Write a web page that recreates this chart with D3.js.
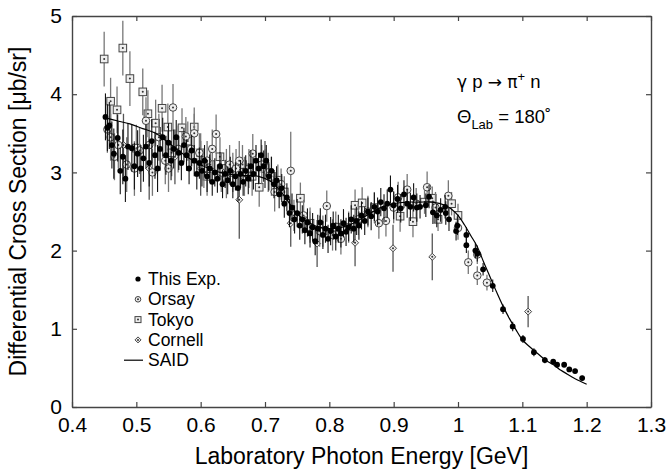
<!DOCTYPE html>
<html>
<head>
<meta charset="utf-8">
<script src="https://cdn.jsdelivr.net/npm/d3@7"></script>
<style>
body { margin: 0; background: #fff; }
text { font-family: "Liberation Sans", Arial, sans-serif; fill: #000; }
</style>
</head>
<body>
<div id="chart"></div>
<script>
// [energy GeV, dsigma ub/sr, error]
var thisExp = [
    [0.452,3.71,0.3],[0.455,3.57,0.3],[0.458,3.60,0.3],[0.462,3.35,0.3],[0.465,3.24,0.32],[0.471,3.44,0.3],[0.475,3.02,0.3],[0.479,3.20,0.35],
    [0.483,2.92,0.3],[0.487,3.33,0.3],[0.493,3.31,0.3],[0.497,3.08,0.3],[0.502,3.24,0.3],[0.507,3.05,0.3],[0.511,3.18,0.3],[0.515,3.33,0.28],
    [0.520,3.12,0.3],[0.524,3.40,0.28],[0.529,3.22,0.3],[0.533,3.05,0.3],[0.537,3.30,0.28],[0.541,3.45,0.25],[0.546,3.22,0.25],[0.550,3.38,0.25],
    [0.554,3.15,0.25],[0.558,3.30,0.25],[0.562,3.45,0.22],[0.566,3.25,0.22],[0.570,3.12,0.22],[0.574,3.35,0.22],[0.578,3.22,0.2],[0.582,3.05,0.2],
    [0.586,3.28,0.2],[0.590,3.15,0.2],[0.594,2.98,0.2],[0.598,3.12,0.2],
    [0.602,3.02,0.2],[0.606,3.15,0.2],[0.610,2.95,0.2],[0.614,3.05,0.18],[0.618,2.88,0.18],[0.622,3.00,0.18],[0.626,2.92,0.18],[0.630,3.08,0.18],
    [0.634,2.85,0.18],[0.638,2.98,0.18],[0.642,2.90,0.18],[0.646,3.02,0.18],[0.650,2.85,0.18],[0.654,2.95,0.18],[0.658,2.80,0.18],[0.662,2.98,0.18],
    [0.666,2.88,0.18],[0.670,3.02,0.2],[0.674,2.92,0.2],[0.678,3.08,0.2],[0.682,2.98,0.2],[0.686,3.15,0.2],[0.690,3.05,0.2],[0.694,3.22,0.2],
    [0.698,3.08,0.2],[0.702,3.15,0.2],
    [0.706,2.95,0.18],[0.710,3.02,0.18],[0.714,2.85,0.18],[0.718,2.90,0.18],[0.722,2.72,0.18],[0.726,2.80,0.18],[0.730,2.60,0.18],[0.734,2.68,0.18],
    [0.738,2.48,0.18],[0.742,2.55,0.18],[0.746,2.40,0.18],[0.750,2.48,0.18],
    [0.754,2.32,0.18],[0.758,2.40,0.18],[0.762,2.26,0.18],[0.766,2.36,0.18],[0.770,2.22,0.18],[0.774,2.30,0.18],[0.778,2.12,0.18],[0.782,2.28,0.18],
    [0.786,2.36,0.18],[0.790,2.20,0.18],[0.794,2.28,0.18],[0.798,2.15,0.18],[0.802,2.25,0.18],[0.806,2.32,0.18],[0.810,2.18,0.18],[0.814,2.28,0.18],
    [0.818,2.22,0.18],[0.822,2.35,0.18],[0.826,2.24,0.18],[0.830,2.30,0.18],[0.834,2.40,0.18],[0.838,2.28,0.18],[0.842,2.38,0.18],[0.846,2.32,0.18],
    [0.850,2.45,0.18],[0.855,2.38,0.18],[0.860,2.50,0.18],[0.865,2.44,0.18],[0.870,2.56,0.18],[0.875,2.50,0.18],[0.880,2.62,0.18],[0.885,2.54,0.18],
    [0.890,2.60,0.18],[0.895,2.78,0.18],[0.900,2.58,0.18],[0.906,2.66,0.18],[0.911,2.54,0.18],[0.916,2.72,0.18],[0.921,2.60,0.18],[0.926,2.56,0.18],
    [0.931,2.68,0.18],[0.936,2.55,0.18],
    [0.941,2.56,0.15],[0.950,2.58,0.15],[0.955,2.69,0.15],[0.961,2.49,0.15],[0.967,2.45,0.15],[0.973,2.52,0.15],[0.980,2.56,0.15],[0.981,2.48,0.15],
    [0.986,2.40,0.15],[0.997,2.25,0.12],[0.999,2.32,0.12],[1.013,2.20,0.1],[1.013,2.07,0.1],[1.027,2.00,0.1],[1.030,1.96,0.1],[1.039,1.76,0.08],
    [1.054,1.55,0.08],[1.070,1.25,0.06],[1.085,1.03,0.06],[1.101,0.87,0.05],[1.118,0.70,0.05],[1.135,0.60,0.04],[1.148,0.58,0.03],[1.154,0.54,0.03],
    [1.165,0.54,0.03],[1.173,0.48,0.03],[1.182,0.46,0.03],[1.193,0.37,0.03]
];

var orsay = [
    [0.455,3.55,0.3],[0.460,3.45,0.3],[0.466,3.20,0.3],[0.472,3.35,0.3],[0.485,3.10,0.35],[0.497,3.05,0.35],[0.505,3.28,0.3],[0.515,3.66,0.3],
    [0.520,3.35,0.3],[0.525,3.00,0.3],[0.535,3.45,0.3],[0.545,3.15,0.3],[0.550,3.05,0.3],[0.557,3.83,0.3],[0.565,3.30,0.3],[0.577,3.46,0.25],
    [0.585,3.30,0.25],[0.590,3.50,0.25],[0.598,3.25,0.25],[0.605,3.05,0.25],[0.610,3.15,0.25],[0.618,3.30,0.25],[0.624,3.49,0.25],[0.632,3.00,0.25],
    [0.640,2.92,0.25],[0.645,3.10,0.25],[0.655,3.05,0.25],[0.660,3.15,0.25],[0.668,2.95,0.25],[0.675,3.05,0.25],[0.681,3.24,0.25],[0.695,3.10,0.25],
    [0.705,3.00,0.25],[0.715,2.75,0.25],[0.725,2.85,0.2],[0.740,3.02,0.5],[0.745,2.45,0.2],[0.760,2.45,0.2],[0.770,2.30,0.2],[0.785,2.25,0.2],
    [0.796,2.57,0.2],[0.805,2.20,0.2],[0.818,2.15,0.2],[0.830,2.30,0.2],[0.845,2.40,0.2],[0.860,2.50,0.2],[0.877,2.35,0.2],[0.888,2.38,0.2],
    [0.900,2.55,0.2],[0.907,2.68,0.2],[0.921,2.78,0.2],[0.935,2.60,0.2],[0.952,2.81,0.2],[0.965,2.55,0.2],[0.985,2.70,0.2],[1.000,2.29,0.15],
    [1.016,1.85,0.15],[1.030,1.95,0.12],[1.030,1.68,0.12],[1.045,1.59,0.1]
];

var tokyo = [
    [0.450,4.45,0.35],[0.460,3.91,0.3],[0.470,3.80,0.3],[0.479,4.59,0.35],[0.490,4.20,0.35],[0.500,3.31,0.3],[0.510,4.03,0.3],[0.518,3.75,0.3],
    [0.530,3.63,0.3],[0.540,3.82,0.3],[0.549,3.58,0.3],[0.555,3.25,0.3],[0.571,3.57,0.25],[0.580,3.40,0.25],[0.590,3.58,0.25],[0.600,3.25,0.25],
    [0.610,2.95,0.25],[0.615,3.10,0.25],[0.630,3.20,0.25],[0.640,3.05,0.25],[0.650,3.00,0.25],[0.665,3.10,0.25],[0.680,2.95,0.25],[0.691,2.81,0.25],
    [0.700,3.05,0.25],[0.710,2.95,0.25],[0.720,2.90,0.2],[0.730,2.75,0.2],[0.755,2.67,0.2],[0.770,2.35,0.2],[0.790,2.25,0.2],[0.810,2.30,0.2],
    [0.840,2.58,0.2],[0.851,2.61,0.2],[0.870,2.55,0.2],[0.910,2.44,0.2],[0.930,2.37,0.2],[0.948,2.62,0.15],[0.960,2.67,0.15],[0.969,2.40,0.15],
    [0.990,2.60,0.15],[1.000,2.45,0.15]
];

var cornell = [
    [0.480,3.35,0.4],[0.520,3.05,0.4],[0.560,3.20,0.35],[0.600,3.05,0.35],[0.660,2.65,0.5],[0.700,3.10,0.3],[0.740,2.35,0.3],[0.781,2.09,0.3],
    [0.840,2.10,0.3],[0.899,2.03,0.3],[0.960,1.92,0.3],[1.109,1.22,0.2]
];

// SAID solution
var saidE = [0.455,0.47,0.49,0.51,0.53,0.55,0.57,0.59,0.61,0.63,0.65,0.67,0.69,0.71,0.72,0.73,0.74,0.75,0.76,0.77,0.78,0.80,0.82,0.84,0.86,0.88,
    0.90,0.92,0.94,0.96,0.98,0.99,1.00,1.01,1.02,1.03,1.04,1.05,1.06,1.07,1.08,1.09,1.10,1.11,1.12,1.13,1.14,1.15,1.16,1.17,1.18,1.19,1.20];
var saidV = [3.69,3.66,3.62,3.56,3.50,3.38,3.25,3.14,3.06,3.00,2.97,2.96,2.95,2.88,2.80,2.70,2.58,2.47,2.40,2.35,2.31,2.28,2.30,2.36,2.46,2.55,
    2.60,2.62,2.62,2.62,2.58,2.53,2.45,2.33,2.19,2.05,1.85,1.66,1.47,1.29,1.13,0.99,0.86,0.78,0.71,0.64,0.58,0.53,0.47,0.42,0.37,0.33,0.29];

var xTicks = [0.4, 0.5, 0.6, 0.7, 0.8, 0.9, 1.0, 1.1, 1.2, 1.3];
var yTicks = [0, 1, 2, 3, 4, 5];
var legendLabels = ["This Exp.", "Orsay", "Tokyo", "Cornell", "SAID"];

(function () {
    var width = 666, height = 474;
    var mLeft = 72, mRight = 651, mTop = 16, mBottom = 407;

    var svg = d3.select("#chart").append("svg")
        .attr("width", width)
        .attr("height", height);

    var x = d3.scaleLinear().domain([0.4, 1.3]).range([mLeft, mRight]);
    var y = d3.scaleLinear().domain([0, 5]).range([mBottom, mTop]);

    var axisColor = "#444";
    var fmt = function (d) { return String(+d.toFixed(1)); };

    // axes, ticks pointing inwards
    var gx = svg.append("g").attr("transform", "translate(0," + mBottom + ")")
        .call(d3.axisBottom(x).tickValues(xTicks).tickSizeInner(-5).tickSizeOuter(0).tickPadding(10).tickFormat(fmt));
    var gy = svg.append("g").attr("transform", "translate(" + mLeft + ",0)")
        .call(d3.axisLeft(y).tickValues(yTicks).tickSizeInner(-5).tickSizeOuter(0).tickPadding(10).tickFormat(fmt));
    var gt = svg.append("g").attr("transform", "translate(0," + mTop + ")")
        .call(d3.axisTop(x).tickValues(xTicks).tickSizeInner(-5).tickSizeOuter(0).tickFormat(""));
    var gr = svg.append("g").attr("transform", "translate(" + mRight + ",0)")
        .call(d3.axisRight(y).tickValues(yTicks).tickSizeInner(-5).tickSizeOuter(0).tickFormat(""));

    [gx, gy, gt, gr].forEach(function (g) {
        g.select(".domain").attr("stroke", axisColor).attr("stroke-width", 1.4);
        g.selectAll(".tick line").attr("stroke", axisColor).attr("stroke-width", 1.2);
        g.selectAll(".tick text")
            .attr("font-size", "21px")
            .attr("font-family", "Liberation Sans, Arial, sans-serif")
            .attr("fill", "#000");
    });

    // axis titles
    svg.append("text")
        .attr("x", (mLeft + mRight) / 2)
        .attr("y", 464)
        .attr("text-anchor", "middle")
        .attr("font-size", "23px")
        .text("Laboratory Photon Energy [GeV]");

    svg.append("text")
        .attr("transform", "translate(26," + ((mTop + mBottom) / 2) + ") rotate(-90)")
        .attr("text-anchor", "middle")
        .attr("font-size", "23px")
        .text("Differential Cross Section [\u03bcb/sr]");

    // marker helpers
    function drawOpen(g, shape, cx, cy, s) {
        if (shape === "circle") {
            g.append("circle").attr("cx", cx).attr("cy", cy).attr("r", s)
                .attr("fill", "#eee").attr("stroke", "#444").attr("stroke-width", 1);
        } else if (shape === "square") {
            g.append("rect").attr("x", cx - s).attr("y", cy - s).attr("width", 2 * s).attr("height", 2 * s)
                .attr("fill", "#eee").attr("stroke", "#444").attr("stroke-width", 1);
        } else {
            g.append("path")
                .attr("d", "M" + cx + "," + (cy - s) + "L" + (cx + s) + "," + cy + "L" + cx + "," + (cy + s) + "L" + (cx - s) + "," + cy + "Z")
                .attr("fill", "#eee").attr("stroke", "#444").attr("stroke-width", 1);
        }
        g.append("circle").attr("cx", cx).attr("cy", cy).attr("r", 1).attr("fill", "#333");
    }

    function drawSet(data, shape, size, barColor, barWidth) {
        var g = svg.append("g");
        g.selectAll("line.err")
            .data(data)
            .enter().append("line")
            .attr("class", "err")
            .attr("x1", function (d) { return x(d[0]); })
            .attr("x2", function (d) { return x(d[0]); })
            .attr("y1", function (d) { return y(d[1] - d[2]); })
            .attr("y2", function (d) { return y(d[1] + d[2]); })
            .attr("stroke", barColor)
            .attr("stroke-width", barWidth);
        data.forEach(function (d) {
            if (shape === "dot") {
                g.append("circle").attr("cx", x(d[0])).attr("cy", y(d[1])).attr("r", size).attr("fill", "#000");
            } else {
                drawOpen(g, shape, x(d[0]), y(d[1]), size);
            }
        });
    }

    drawSet(cornell, "diamond", 3.5, "#555", 1.3);
    drawSet(tokyo, "square", 3.8, "#777", 1.3);
    drawSet(orsay, "circle", 3.8, "#777", 1.3);
    drawSet(thisExp, "dot", 2.9, "#111", 1.1);

    // SAID curve
    var saidPts = saidE.map(function (e, i) { return [e, saidV[i]]; });
    var line = d3.line()
        .x(function (d) { return x(d[0]); })
        .y(function (d) { return y(d[1]); })
        .curve(d3.curveCatmullRom);
    svg.append("path")
        .datum(saidPts)
        .attr("d", line)
        .attr("fill", "none")
        .attr("stroke", "#000")
        .attr("stroke-width", 1.2);

    // legend
    var lg = svg.append("g");
    var lx = 138, ly0 = 285, ldy = 20.3;
    legendLabels.forEach(function (lab, i) {
        var by = ly0 + i * ldy;
        var cy = by - 6;
        if (i === 0) lg.append("circle").attr("cx", lx).attr("cy", cy).attr("r", 2.6).attr("fill", "#000");
        if (i === 1) drawOpen(lg, "circle", lx, cy, 2.8);
        if (i === 2) drawOpen(lg, "square", lx, cy, 3);
        if (i === 3) drawOpen(lg, "diamond", lx, cy, 3);
        if (i === 4) lg.append("line").attr("x1", 124).attr("x2", 143).attr("y1", cy).attr("y2", cy)
            .attr("stroke", "#000").attr("stroke-width", 1.2);
        lg.append("text").attr("x", 148).attr("y", by).attr("font-size", "17.5px").text(lab);
    });

    // reaction label
    var greek = "DejaVu Sans, sans-serif";
    var t1 = svg.append("text").attr("x", 457).attr("y", 88).attr("font-size", "18.5px");
    t1.append("tspan").attr("font-family", greek).attr("font-size", "17px").text("\u03b3");
    t1.append("tspan").text(" p ");
    t1.append("tspan").attr("font-family", greek).attr("font-size", "17px").text("\u2192  \u03c0");
    t1.append("tspan").attr("dy", -7).attr("font-size", "13px").text("+");
    t1.append("tspan").attr("dy", 7).text(" n");

    var t2 = svg.append("text").attr("x", 457).attr("y", 123).attr("font-size", "18.5px");
    t2.append("tspan").text("\u0398");
    t2.append("tspan").attr("dy", 6).attr("font-size", "13px").text("Lab");
    t2.append("tspan").attr("dy", -6).text(" = 180\u02da");
})();
</script>
</body>
</html>
